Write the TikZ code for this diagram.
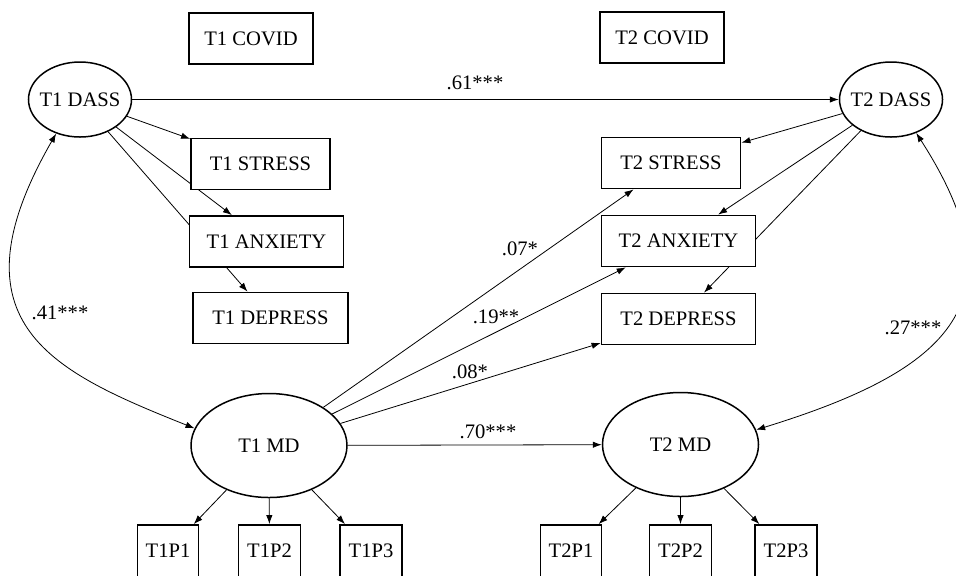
\documentclass[tikz,border=0pt]{standalone}
\usepackage{fontspec}
\setmainfont{Liberation Serif}
\usetikzlibrary{shapes.geometric,backgrounds,arrows.meta}
\tikzset{
  obs/.style={ % image of an observed score
    draw, rectangle, fill=white, line width=0.9pt,
    minimum height=25.5pt, inner sep=1pt, text=black
  },
  lat/.style={ % image of a latent factor
    draw, ellipse, fill=white, line width=0.75pt,
    inner xsep=-2pt, inner ysep=0pt, text=black
  },
  coef/.style={ % path coefficient
    inner sep=1pt, text=black
  }
}
\begin{document}
\begin{tikzpicture}[
      x=0.5pt, y=-0.5pt, >={Latex[length=4.5pt,width=3.2pt]}, line width=0.65pt,
      font=\fontsize{10.3}{12}\selectfont
    ]
      \useasboundingbox (0,0) rectangle (956,575);

      \node[obs,minimum width=62pt] (T1cov) at (251,38.5) {T1 COVID};
      \node[obs,minimum width=62pt] (T2cov) at (662,37.5) {T2 COVID};
      \node[lat,minimum width=51.5pt,minimum height=37.5pt] (T1dass) at (80,99.5) {T1 DASS};
      \node[lat,minimum width=51.5pt,minimum height=37.5pt] (T2dass) at (891,99.5) {T2 DASS};
      \node[obs,minimum width=69.5pt] (T1str) at (260.5,164) {T1 STRESS};
      \node[obs,minimum width=77pt] (T1anx) at (266.5,241.5) {T1 ANXIETY};
      \node[obs,minimum width=77.5pt] (T1dep) at (270.5,318) {T1 DEPRESS};
      \node[obs,minimum width=69.5pt] (T2str) at (671,163) {T2 STRESS};
      \node[obs,minimum width=77pt] (T2anx) at (678.5,241) {T2 ANXIETY};
      \node[obs,minimum width=77pt] (T2dep) at (678.5,319) {T2 DEPRESS};
      \node[lat,minimum width=78pt,minimum height=52pt] (T1md) at (269,445.5) {T1 MD};
      \node[lat,minimum width=78pt,minimum height=52pt] (T2md) at (680.5,444.5) {T2 MD};
      \node[obs,minimum width=30.5pt,minimum height=26pt] (T1p1) at (168,551) {T1P1};
      \node[obs,minimum width=31pt,minimum height=26pt] (T1p2) at (269.5,551) {T1P2};
      \node[obs,minimum width=31pt,minimum height=26pt] (T1p3) at (371,551) {T1P3};
      \node[obs,minimum width=30.5pt,minimum height=26pt] (T2p1) at (571,551) {T2P1};
      \node[obs,minimum width=31pt,minimum height=26pt] (T2p2) at (680.5,551) {T2P2};
      \node[obs,minimum width=31pt,minimum height=26pt] (T2p3) at (786,551) {T2P3};

      \node[coef] (c61) at (475,83) {.61***};
      \node[coef] (c41) at (60,313) {.41***};
      \node[coef] (c07) at (520,249) {.07*};
      \node[coef] (c19) at (496,317) {.19**};
      \node[coef] (c08) at (470,372) {.08*};
      \node[coef] (c70) at (488,432) {.70***};
      \node[coef] (c27) at (913,328) {.27***};

      \begin{scope}[on background layer]
        % loadings
        \draw[->] (T1dass) -- (T1str);
        \draw[->] (T1dass) -- (T1anx);
        \draw[->] (T1dass) -- (T1dep);
        \draw[->] (T2dass) -- (T2str);
        \draw[->] (T2dass) -- (T2anx);
        \draw[->] (T2dass) -- (T2dep);
        \draw[->] (T1md) -- (T1p1);
        \draw[->] (T1md) -- (T1p2);
        \draw[->] (T1md) -- (T1p3);
        \draw[->] (T2md) -- (T2p1);
        \draw[->] (T2md) -- (T2p2);
        \draw[->] (T2md) -- (T2p3);
        % paths
        \draw[->] (T1dass) -- (T2dass);
        \draw[->] (T1md) -- (T2md);
        \draw[->] (T1md) -- (T2str);
        \draw[->] (T1md) -- (T2anx);
        \draw[->] (T1md) -- (T2dep);
        % covariances
        \draw[<->] (T1dass.235) .. controls +(-110,191) and +(-140,-56) .. (T1md.167);
        \draw[<->] (T2dass.307) .. controls +(108,168) and +(195,-60) .. (T2md.11);
      \end{scope}
    \end{tikzpicture}
\end{document}
